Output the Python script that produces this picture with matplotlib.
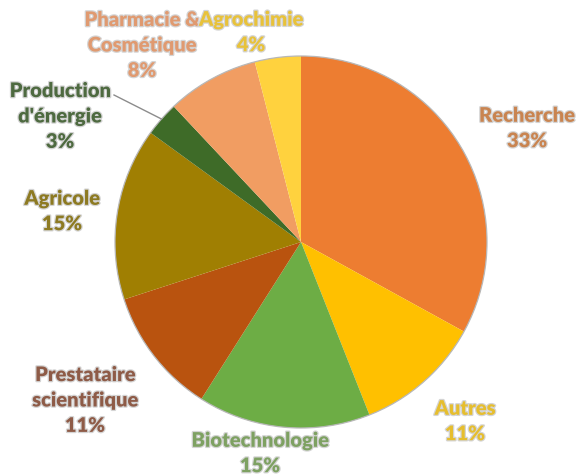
import numpy as np
import matplotlib
matplotlib.use("Agg")
import matplotlib.pyplot as plt
import matplotlib.patheffects as pe

# Répartition par secteur (%), dans l'ordre horaire depuis midi
categories = ["Recherche", "Autres", "Biotechnologie", "Prestataire\nscientifique",
              "Agricole", "Production\nd'énergie", "Pharmacie &\nCosmétique", "Agrochimie"]
values = [33, 11, 15, 11, 15, 3, 8, 4]
slice_colors = ["#ED7D31", "#FFC000", "#6DAD45", "#B9530F",
                "#A07F02", "#3E6B28", "#F19D62", "#FFD23E"]
label_colors = ["#C98450", "#E6BE2E", "#7EA162", "#8E5B47",
                "#8D7A22", "#4E6A40", "#E09A70", "#E8C23A"]

W, H = 578, 475
cx, cy, r = 301, H - 242, 186

# label anchor (image pixels, y from top)
label_pos = [(527, 128), (465, 421), (260, 453), (85, 400),
             (62, 211), (60, 116), (142, 45), (251, 32)]

fig = plt.figure(figsize=(W / 100, H / 100), dpi=100)
ax = fig.add_axes([0, 0, 1, 1])

wedges, _ = ax.pie(values, colors=slice_colors, startangle=90, counterclock=False,
                   center=(cx, cy), radius=r,
                   wedgeprops=dict(linewidth=0.6, edgecolor="none"))
ax.add_patch(plt.Circle((cx, cy), r, fill=False, edgecolor="#B8B8B8", linewidth=0.9))
ax.set_xlim(0, W)
ax.set_ylim(0, H)
ax.set_aspect("equal")
ax.axis("off")

for w, lab, v, col, (lx, ly) in zip(wedges, categories, values, label_colors, label_pos):
    ax.text(lx, H - ly, f"{lab}\n{v}%", ha="center", va="center", color=col,
            fontsize=14.5, fontweight="heavy", family=["Lato", "DejaVu Sans"],
            linespacing=1.4, zorder=5,
            path_effects=[pe.withStroke(linewidth=1.8, foreground="#D4D4D4")])

# leader line for the small slice
w = wedges[5]
ang = np.deg2rad((w.theta1 + w.theta2) / 2)
ex, ey = cx + r * np.cos(ang), cy + r * np.sin(ang)
ax.plot([114, ex], [H - 95, ey], color="#8C8C8C", linewidth=1.0)

fig.savefig("out.png", dpi=100)
